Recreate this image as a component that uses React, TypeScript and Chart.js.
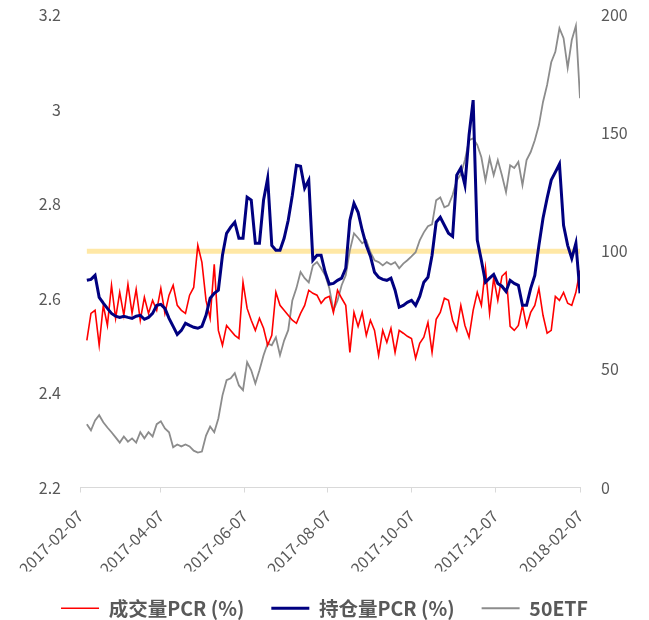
import React, { useEffect, useRef } from 'react';
import { Chart, registerables } from 'chart.js';

Chart.register(...registerables);

// x axis: days since 2017-02-07
const tickDays = [0, 59, 120, 181, 242, 303, 365];
const tickLabels = ['2017-02-07', '2017-04-07', '2017-06-07', '2017-08-07', '2017-10-07', '2017-12-07', '2018-02-07'];
const firstDay = 5;
const dayStep = 3;

const seriesNames = ['成交量PCR (%)', '持仓量PCR (%)', '50ETF'];

// 成交量PCR (%) — right axis
const volumePCR = [
  62.3, 73.7, 75.0, 60.2, 77.1, 68.6, 85.6, 71.6, 82.6, 72.9,
  86.0, 73.7, 83.9, 70.8, 80.5, 73.7, 79.2, 75.0, 84.3, 73.7,
  81.4, 85.6, 77.1, 75.0, 73.7, 81.4, 84.7, 102.5, 95.3, 79.2,
  71.6, 94.5, 66.5, 60.2, 68.6, 66.5, 64.4, 63.1, 86.9, 75.8,
  70.8, 66.5, 71.6, 67.4, 60.2, 64.4, 82.6, 77.1, 75.0, 72.9,
  70.8, 69.5, 73.7, 77.1, 83.5, 82.2, 81.4, 78.0, 80.1, 80.9,
  74.1, 83.5, 80.1, 77.1, 57.2, 74.1, 68.2, 74.1, 64.4, 70.8,
  66.5, 55.9, 66.5, 61.4, 67.4, 57.2, 66.5, 65.3, 64.0, 63.1,
  54.7, 61.0, 63.6, 69.9, 57.2, 71.2, 74.1, 80.1, 79.2, 70.8,
  66.5, 77.1, 68.6, 63.6, 75.0, 82.6, 77.1, 92.8, 73.7, 88.6,
  79.2, 89.4, 91.1, 68.2, 66.5, 68.6, 77.1, 68.2, 74.1, 77.1,
  84.3, 72.9, 65.3, 66.5, 80.9, 79.2, 82.6, 78.0, 77.1, 82.6,
  91.9,
];

// 持仓量PCR (%) — right axis
const oiPCR = [
  87.7, 88.1, 89.8, 80.5, 78.0, 75.8, 73.7, 72.5, 72.0, 72.5,
  72.0, 71.6, 72.5, 72.9, 71.2, 72.0, 73.7, 77.1, 77.5, 75.8,
  71.6, 68.2, 64.8, 66.5, 69.5, 68.6, 67.8, 67.4, 68.2, 72.9,
  80.1, 82.2, 83.5, 98.3, 107.6, 110.2, 112.3, 105.5, 105.5, 122.9,
  121.7, 103.4, 103.4, 121.7, 130.9, 102.5, 100.4, 100.4, 105.5, 113.1,
  123.7, 136.4, 136.0, 126.7, 130.1, 96.2, 98.3, 98.3, 91.1, 86.0,
  86.4, 87.7, 88.6, 92.8, 113.1, 120.3, 116.5, 108.9, 102.5, 97.9,
  91.1, 89.0, 88.1, 87.7, 88.6, 83.5, 76.3, 77.1, 78.4, 79.2,
  77.1, 80.9, 86.9, 89.0, 98.3, 112.3, 114.4, 111.0, 107.6, 106.3,
  132.2, 135.2, 128.0, 149.1, 164.0, 104.7, 96.2, 86.9, 88.6, 90.2,
  86.4, 85.2, 83.0, 87.7, 86.4, 85.6, 77.1, 77.1, 84.3, 89.8,
  102.5, 114.0, 122.5, 130.1, 133.5, 136.9, 111.0, 102.5, 97.0, 103.4,
  82.2,
];

// 50ETF — left axis
const etf50 = [
  2.334, 2.321, 2.342, 2.353, 2.338, 2.327, 2.317, 2.306, 2.295, 2.308,
  2.297, 2.304, 2.295, 2.317, 2.304, 2.317, 2.308, 2.334, 2.340, 2.325,
  2.317, 2.285, 2.291, 2.287, 2.291, 2.287, 2.278, 2.274, 2.276, 2.310,
  2.329, 2.317, 2.346, 2.395, 2.427, 2.431, 2.442, 2.416, 2.406, 2.465,
  2.448, 2.420, 2.448, 2.480, 2.505, 2.501, 2.518, 2.480, 2.511, 2.533,
  2.596, 2.622, 2.656, 2.643, 2.634, 2.670, 2.677, 2.664, 2.649, 2.622,
  2.575, 2.596, 2.628, 2.649, 2.702, 2.738, 2.728, 2.717, 2.723, 2.698,
  2.681, 2.677, 2.670, 2.677, 2.672, 2.677, 2.664, 2.674, 2.681, 2.689,
  2.698, 2.723, 2.740, 2.753, 2.757, 2.808, 2.814, 2.793, 2.797, 2.819,
  2.850, 2.863, 2.893, 2.935, 2.939, 2.925, 2.899, 2.850, 2.897, 2.861,
  2.893, 2.861, 2.825, 2.882, 2.876, 2.889, 2.840, 2.893, 2.910, 2.935,
  2.967, 3.016, 3.052, 3.100, 3.122, 3.172, 3.151, 3.088, 3.147, 3.177,
  3.024,
];

const referenceLevel = 100; // horizontal 100% PCR line (right axis)

const colors = { red: '#FF0000', navy: '#000080', gray: '#8C8C8C', yellow: '#FFE8A6', text: '#595959', axis: '#D9D9D9' };
const widths = [1.6, 3, 1.8];

const toPoints = (arr: number[]) => arr.map((y, i) => ({ x: firstDay + dayStep * i, y }));

export default function App() {
  const canvasRef = useRef<HTMLCanvasElement | null>(null);

  useEffect(() => {
    const canvas = canvasRef.current;
    if (!canvas) return;
    const fontFamily = "'Noto Sans CJK SC', 'Noto Sans', sans-serif";
    const hiddenTicks = { display: true, drawOnChartArea: false, drawTicks: true, color: 'rgba(0,0,0,0)' };
    const chart = new Chart(canvas, {
      type: 'line',
      data: {
        datasets: [
          {
            label: seriesNames[0],
            data: toPoints(volumePCR),
            yAxisID: 'y1',
            borderColor: colors.red,
            backgroundColor: colors.red,
            borderWidth: widths[0],
            pointRadius: 0,
            tension: 0,
            order: 1,
          },
          {
            label: seriesNames[1],
            data: toPoints(oiPCR),
            yAxisID: 'y1',
            borderColor: colors.navy,
            backgroundColor: colors.navy,
            borderWidth: widths[1],
            pointRadius: 0,
            tension: 0,
            order: 0,
          },
          {
            label: seriesNames[2],
            data: toPoints(etf50),
            yAxisID: 'y',
            borderColor: colors.gray,
            backgroundColor: colors.gray,
            borderWidth: widths[2],
            pointRadius: 0,
            tension: 0,
            order: 2,
          },
          {
            label: 'ref',
            data: toPoints(volumePCR.map(() => referenceLevel)),
            yAxisID: 'y1',
            borderColor: colors.yellow,
            backgroundColor: colors.yellow,
            borderWidth: 5,
            pointRadius: 0,
            order: 3,
          },
        ],
      },
      options: {
        responsive: false,
        animation: false,
        devicePixelRatio: 1,
        events: [],
        layout: { padding: { top: 15, bottom: -8, left: 0, right: 0 } },
        plugins: {
          tooltip: { enabled: false },
          legend: {
            position: 'bottom',
            labels: {
              usePointStyle: true,
              pointStyleWidth: 38,
              padding: 27,
              color: colors.text,
              font: { size: 19.5, weight: 'bold', family: fontFamily },
              generateLabels: () =>
                [colors.red, colors.navy, colors.gray].map((c, i) => ({
                  text: seriesNames[i],
                  fillStyle: c,
                  strokeStyle: c,
                  lineWidth: widths[i],
                  pointStyle: 'line',
                  hidden: false,
                  datasetIndex: i,
                  fontColor: colors.text,
                })),
            },
          },
        },
        scales: {
          x: {
            type: 'linear',
            min: 0,
            max: 365,
            afterBuildTicks: (scale: any) => {
              scale.ticks = tickDays.map((v) => ({ value: v }));
            },
            afterFit: (scale: any) => {
              scale.height = 84;
            },
            ticks: {
              autoSkip: false,
              minRotation: 45,
              maxRotation: 45,
              padding: 14,
              color: colors.text,
              font: { size: 16, family: fontFamily },
              callback: (value: any) => {
                const idx = tickDays.indexOf(Number(value));
                return idx >= 0 ? tickLabels[idx] : '';
              },
            },
            grid: { drawOnChartArea: false, drawTicks: true, tickLength: 5, color: colors.axis, lineWidth: 1 },
            border: { display: true, color: colors.axis, width: 1 },
          },
          y: {
            type: 'linear',
            position: 'left',
            min: 2.2,
            max: 3.2,
            afterFit: (scale: any) => {
              scale.width = 80;
            },
            ticks: {
              stepSize: 0.2,
              padding: 4,
              color: colors.text,
              font: { size: 16, family: fontFamily },
              callback: (v: any) => String(Number(Number(v).toFixed(1))),
            },
            grid: { ...hiddenTicks, tickLength: 15 },
            border: { display: false },
          },
          y1: {
            type: 'linear',
            position: 'right',
            min: 0,
            max: 200,
            afterFit: (scale: any) => {
              scale.width = 69;
            },
            ticks: {
              stepSize: 50,
              padding: 4,
              color: colors.text,
              font: { size: 16, family: fontFamily },
            },
            grid: { ...hiddenTicks, tickLength: 17 },
            border: { display: false },
          },
        },
      },
    } as any);
    return () => chart.destroy();
  }, []);

  return (
    <div style={{ position: 'absolute', left: 0, top: 0, width: 649, height: 620, background: '#fff' }}>
      <canvas ref={canvasRef} width={649} height={620} />
    </div>
  );
}
